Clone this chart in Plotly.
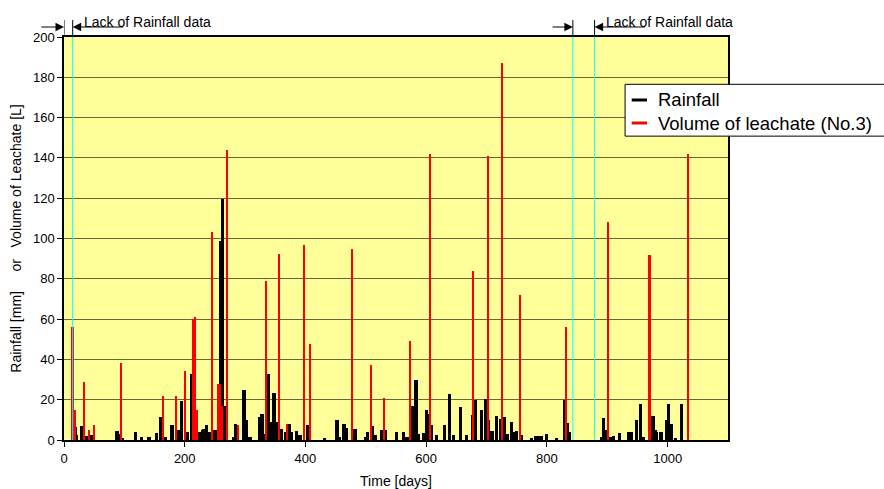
import plotly.graph_objects as go

# Daily rainfall [mm]
rain_days = [18, 21, 30, 37, 46, 88, 91, 96, 118, 128, 141, 153, 160, 168, 179, 190, 195, 205,
             211, 216, 225, 229, 232, 236, 240, 250, 260, 263, 267, 281, 284, 287, 298, 302,
             305, 308, 324, 328, 331, 338, 342, 348, 351, 355, 360, 367, 374, 377, 385, 391,
             403, 431, 452, 456, 464, 468, 482, 499, 503, 511, 516, 526, 532, 551, 562, 568,
             578, 583, 587, 595, 601, 604, 609, 617, 630, 639, 645, 657, 667, 677, 682, 692,
             698, 703, 709, 716, 723, 729, 735, 741, 744, 750, 758, 774, 782, 786, 790, 799,
             816, 829, 834, 837, 891, 894, 897, 905, 910, 920, 935, 940, 948, 955, 960, 976,
             980, 982, 989, 998, 1001, 1006, 1013, 1023]
rain_mm = [6.5, 2.3, 6.8, 2.0, 2.5, 4.3, 3.1, 1.0, 3.8, 1.5, 1.5, 3.5, 11.4, 1.5, 7.3, 4.8, 19.4, 4.0,
           33.0, 15.0, 4.0, 4.8, 5.6, 7.3, 4.0, 5.0, 99.0, 119.5, 17.0, 1.5, 8.0, 7.3, 25.0, 9.8,
           1.5, 1.5, 11.4, 13.0, 3.0, 33.0, 9.0, 23.3, 9.0, 4.8, 5.6, 3.8, 8.1, 4.0, 4.3, 2.3,
           7.3, 0.8, 9.8, 1.5, 7.8, 6.1, 5.6, 1.5, 4.0, 6.8, 2.3, 5.1, 5.1, 4.0, 4.0, 1.5,
           16.7, 29.6, 3.1, 3.5, 15.0, 13.0, 7.3, 2.3, 7.3, 23.0, 2.3, 16.4, 2.3, 12.3, 19.7, 14.7,
           20.5, 9.8, 4.5, 11.8, 10.6, 11.4, 3.1, 9.0, 4.0, 4.3, 2.3, 0.8, 1.8, 1.8, 2.1, 3.1,
           1.0, 20.0, 8.4, 4.0, 1.5, 11.0, 5.1, 1.5, 1.8, 3.5, 3.8, 3.8, 9.8, 18.0, 1.5, 11.8,
           4.8, 4.0, 3.8, 9.8, 17.7, 8.0, 1.0, 18.0]

# Volume of leachate, lysimeter No.3 [L]
leach_days = [14, 18, 33, 42, 49, 95, 164, 185, 200, 213, 217, 220, 245, 255, 258, 262, 270, 288,
              334, 356, 369, 397, 407, 477, 509, 530, 573, 606, 678, 703, 725, 755, 832, 901,
              970, 1033]
leach_l = [56, 14.7, 28.8, 4.8, 7.6, 38, 21.9, 21.9, 34, 60, 61, 14.7, 103, 28, 28, 17, 144, 7.6,
           79, 92.4, 8, 96.9, 47.7, 95, 37, 21, 49, 142, 84, 141, 187, 72, 56, 108,
           92, 142]

# Periods without rainfall records [days]
gaps = [(0, 14.4), (843, 879)]

x_ticks = [0, 200, 400, 600, 800, 1000]
y_ticks = list(range(0, 201, 20))

FONT = "Arial, Liberation Sans, sans-serif"

fig = go.Figure()
fig.add_trace(go.Bar(x=rain_days, y=rain_mm, width=5.5, name="Rainfall",
                     marker=dict(color="#000000", line=dict(width=0))))
fig.add_trace(go.Bar(x=leach_days, y=leach_l, width=3.5, name="Volume of leachate (No.3)",
                     marker=dict(color="#FF0000", line=dict(width=0))))

# cyan markers bounding the missing-data periods
for d in [gaps[0][1], gaps[1][0], gaps[1][1]]:
    fig.add_shape(type="line", xref="x", yref="paper", x0=d, x1=d, y0=0, y1=1,
                  line=dict(color="#00FFFF", width=1), layer="above")

# dimension marks above the plot
y_arrow = 1.0248
for a, b in gaps:
    for d in (a, b):
        fig.add_shape(type="line", xref="x", yref="paper", x0=d, x1=d, y0=1.0, y1=1.042,
                      line=dict(color="#000000", width=1))
arrows = [(-40, 0), (100.5, 14.4), (807, 843), (965, 879)]
for tail, head in arrows:
    fig.add_annotation(x=head, y=y_arrow, xref="x", yref="paper", ax=tail, ay=0,
                       axref="x", ayref="pixel", text="", showarrow=True,
                       arrowhead=2, arrowsize=1.7, arrowwidth=1, arrowcolor="#000000")
for xs in (29, 895):
    fig.add_annotation(x=xs, y=1.038, xref="x", yref="paper", text="Lack of Rainfall data",
                       showarrow=False, xanchor="left", yanchor="middle",
                       font=dict(family=FONT, size=14, color="#000000"))

# legend box
fig.add_shape(type="rect", xref="paper", yref="paper", x0=0.845, x1=1.3, y0=0.754, y1=0.8826,
              line=dict(color="#000000", width=1), fillcolor="#FFFFFF", layer="above")
legend_items = [("Rainfall", "#000000", 0.8437), ("Volume of leachate (No.3)", "#FF0000", 0.7866)]
for label, col, yy in legend_items:
    fig.add_shape(type="line", xref="paper", yref="paper", x0=0.855, x1=0.878, y0=yy, y1=yy,
                  line=dict(color=col, width=3), layer="above")
    fig.add_annotation(x=0.8916, y=yy, xref="paper", yref="paper", text=label, showarrow=False,
                       xanchor="left", yanchor="middle",
                       font=dict(family=FONT, size=18.5, color="#000000"))

nb = "\u00a0"
fig.update_layout(
    width=884, height=489,
    margin=dict(l=64, r=156, t=37, b=49, autoexpand=False),
    paper_bgcolor="#FFFFFF", plot_bgcolor="#FFFF99",
    barmode="overlay", bargap=0, showlegend=False,
    font=dict(family=FONT, size=13, color="#000000"),
)
fig.update_xaxes(range=[0, 1100], tickvals=x_ticks, ticks="outside", ticklen=5, tickcolor="#000000",
                 showgrid=False, zeroline=False, showline=True, linecolor="#000000", linewidth=2,
                 mirror=True, tickfont=dict(size=13),
                 title=dict(text="Time [days]", font=dict(size=14), standoff=12))
fig.update_yaxes(range=[0, 200], tickvals=y_ticks, ticks="outside", ticklen=5, tickcolor="#000000",
                 showgrid=True, gridcolor="rgba(0,0,0,0.6)", gridwidth=1, zeroline=False,
                 showline=True, linecolor="#000000", linewidth=1.5, mirror=True,
                 tickfont=dict(size=13),
                 title=dict(text="Rainfall [mm]" + nb * 5 + "or" + nb * 3 + "Volume of Leachate [L]",
                            font=dict(size=14), standoff=8))

fig.write_html("out.html")
